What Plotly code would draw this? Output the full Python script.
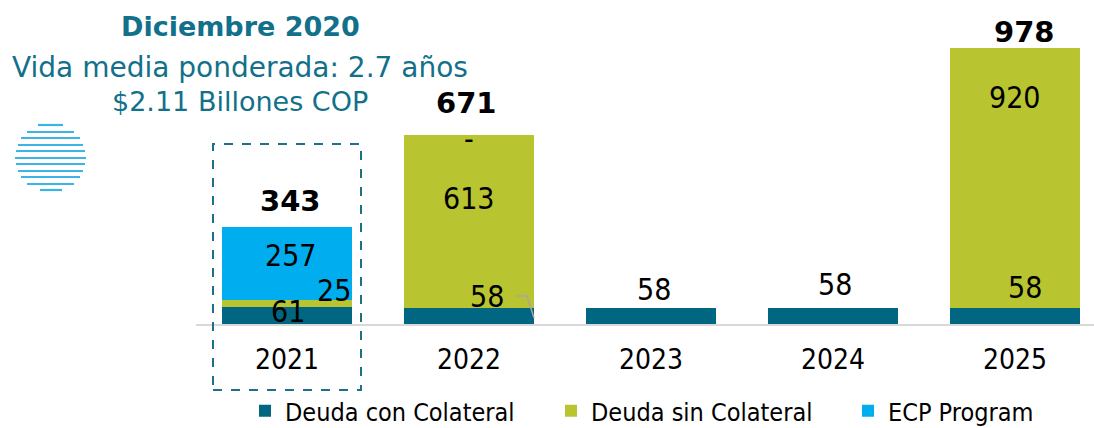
import plotly.graph_objects as go

# Vencimientos por año (miles de millones COP)
years = ["2021", "2022", "2023", "2024", "2025"]
deuda_con_colateral = [61, 58, 58, 58, 58]
deuda_sin_colateral = [25, 613, 0, 0, 920]
ecp_program = [257, 0, 0, 0, 0]
ecp_text = ["257", "-", "", "", ""]

title_lines = ["Diciembre 2020", "Vida media ponderada: 2.7 años", "$2.11 Billones COP"]

C_DARK = "#006682"
C_GREEN = "#B8C430"
C_BLUE = "#00AEEF"
C_TITLE = "#12708A"

W, H = 1094, 428
L_M, B_M = 196, 104
PLOT_W, PLOT_H = W - L_M, H - B_M
CAT_PX = 182.0
PX_PER_UNIT = 276.0 / 978.0
Y_MAX = PLOT_H / PX_PER_UNIT
X_MAX = -0.5 + PLOT_W / CAT_PX

NUM_FONT = "Liberation Sans Narrow, DejaVu Sans Condensed, sans-serif"
TXT_FONT = "DejaVu Sans Condensed, DejaVu Sans, sans-serif"


def paper_x(px):
    return (px - L_M) / PLOT_W


def paper_y(py):
    return (PLOT_H - py) / PLOT_H


def data_x(px):
    return (px - L_M) / CAT_PX - 0.5


def data_y(py):
    return (PLOT_H - py) / PX_PER_UNIT


series = [
    ("Deuda con Colateral", deuda_con_colateral, C_DARK, "legend", 245),
    ("Deuda sin Colateral", deuda_sin_colateral, C_GREEN, "legend2", 551),
    ("ECP Program", ecp_program, C_BLUE, "legend3", 848),
]

fig = go.Figure()
for name, vals, col, leg, _ in series:
    fig.add_trace(go.Bar(
        x=years, y=vals, name=name, width=0.714,
        marker=dict(color=col, line=dict(width=0)),
        hoverinfo="skip", legend=leg,
    ))

annotations = []

# label nudges (dx, dy in px; dy positive = up)
off_con = [(1, 4), (18, 19), (3, 26), (2, 31), (10, 28)]
off_sin = [(47, 13), (0, 23), (0, 0), (0, 0), (0, 80)]
off_ecp = [(4, 8), (0, -4), (0, 0), (0, 0), (0, 0)]
off_tot = [(3, 26), (-3, 32), (0, 0), (0, 0), (9, 16)]

for i, yr in enumerate(years):
    base = 0
    segs = [
        (deuda_con_colateral[i], str(deuda_con_colateral[i]) if deuda_con_colateral[i] else "", off_con[i]),
        (deuda_sin_colateral[i], str(deuda_sin_colateral[i]) if deuda_sin_colateral[i] else "", off_sin[i]),
        (ecp_program[i], ecp_text[i], off_ecp[i]),
    ]
    for v, txt, (dx, dy) in segs:
        if txt:
            annotations.append(dict(
                x=i, y=base + v / 2, xref="x", yref="y", text=txt, showarrow=False,
                xshift=dx, yshift=dy, xanchor="center", yanchor="middle",
                font=dict(family=NUM_FONT, size=30, color="#000000"),
            ))
        base += v
    n_parts = sum(1 for v in (deuda_con_colateral[i], deuda_sin_colateral[i], ecp_program[i]) if v > 0)
    if n_parts > 1:
        dx, dy = off_tot[i]
        annotations.append(dict(
            x=i, y=base, xref="x", yref="y", text="<b>%d</b>" % base, showarrow=False,
            xshift=dx, yshift=dy, xanchor="center", yanchor="middle",
            font=dict(family="DejaVu Sans, sans-serif", size=29, color="#000000"),
        ))

# header block
for txt, cy, size, bold in [
    (title_lines[0], 26, 27, True),
    (title_lines[1], 67, 28, False),
    (title_lines[2], 102, 27, False),
]:
    annotations.append(dict(
        x=paper_x(240), y=paper_y(cy), xref="paper", yref="paper",
        text=("<b>%s</b>" % txt) if bold else txt, showarrow=False,
        xanchor="center", yanchor="middle",
        font=dict(family="DejaVu Sans, sans-serif", size=size, color=C_TITLE),
    ))

shapes = []

# striped globe emblem
stripes = [(125, 38, 63), (132, 27, 74), (138, 21, 80), (145, 18, 83), (151, 16, 85),
           (158, 15, 86), (164, 16, 85), (171, 18, 83), (177, 21, 80), (184, 27, 74), (190, 40, 62)]
for sy, sx0, sx1 in stripes:
    shapes.append(dict(
        type="line", xref="paper", yref="paper",
        x0=paper_x(sx0), x1=paper_x(sx1), y0=paper_y(sy), y1=paper_y(sy),
        line=dict(color="#3BB5E6", width=2.2),
    ))

# dashed highlight around 2021
shapes.append(dict(
    type="rect", xref="paper", yref="paper",
    x0=paper_x(213), x1=paper_x(361), y0=paper_y(390), y1=paper_y(144),
    line=dict(color="#1D6F8A", width=2, dash="dash"),
    fillcolor="rgba(0,0,0,0)",
))

# leader line for the 2022 collateral label
shapes.append(dict(
    type="path", xref="x", yref="y",
    path="M %f,%f L %f,%f L %f,%f" % (
        data_x(517), data_y(296), data_x(527), data_y(296), data_x(534), data_y(318)),
    line=dict(color="#A6A6A6", width=1.5),
))

legend_style = dict(
    orientation="h", xanchor="left", yanchor="bottom",
    font=dict(family=TXT_FONT, size=25, color="#000000"),
    itemwidth=30, bgcolor="rgba(0,0,0,0)",
)
legends = {}
for idx, (_, _, _, leg, lx) in enumerate(series):
    legends[leg] = dict(legend_style, x=paper_x(lx), y=paper_y(H + 6))

fig.update_layout(
    width=W, height=H,
    margin=dict(l=L_M, r=0, t=0, b=B_M, pad=0, autoexpand=False),
    paper_bgcolor="white", plot_bgcolor="white",
    barmode="stack",
    showlegend=True,
    xaxis=dict(
        type="category", range=[-0.5, X_MAX],
        showline=True, linecolor="#D9D9D9", linewidth=2,
        showgrid=False, zeroline=False, ticks="",
        ticklabelstandoff=9,
        tickfont=dict(family=NUM_FONT, size=28, color="#000000"),
        fixedrange=True,
    ),
    yaxis=dict(
        range=[0, Y_MAX], visible=False, showgrid=False, zeroline=False, fixedrange=True,
    ),
    annotations=annotations,
    shapes=shapes,
    **legends,
)

fig.write_html("out.html")
